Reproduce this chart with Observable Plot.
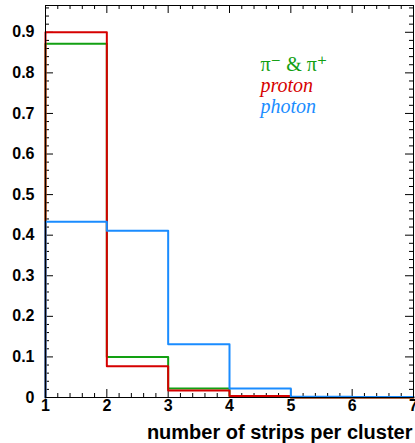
<!DOCTYPE html>
<html>
<head>
<meta charset="utf-8">
<script src="https://cdn.jsdelivr.net/npm/d3@7"></script>
<script src="https://cdn.jsdelivr.net/npm/@observablehq/plot@0.6"></script>
<style>
  html, body { margin: 0; padding: 0; background: #fff; }
  .legend-serif text { font-family: "Liberation Serif", "DejaVu Serif", "Times New Roman", serif !important; }
</style>
</head>
<body>
<div id="chart"></div>
<script>
// Bin edges (number of strips per cluster)
const binEdges = [1, 2, 3, 4, 5, 6, 7];
// Normalised fractions per bin (bins 1..6)
const pionValues   = [0.872, 0.100, 0.022, 0.004, 0.000, 0.000];
const protonValues = [0.900, 0.077, 0.017, 0.004, 0.000, 0.000];
const photonValues = [0.433, 0.411, 0.131, 0.022, 0.002, 0.001];
const seriesNames  = ["pion", "proton", "photon"];
const legendLabels = ["π⁻ & π⁺", "proton", "photon"];
const xTickLabels  = [1, 2, 3, 4, 5, 6, 7];
const yTickValues  = [0, 0.1, 0.2, 0.3, 0.4, 0.5, 0.6, 0.7, 0.8, 0.9];

const colors = {pion: "#12a012", proton: "#d60000", photon: "#1a8cff"};

function outline(values) {
  const pts = [{x: binEdges[0], y: 0}];
  values.forEach((v, i) => pts.push({x: binEdges[i], y: v}));
  pts.push({x: binEdges[binEdges.length - 1], y: values[values.length - 1]});
  return pts;
}

const W = 415, H = 443;
const mL = 45, mR = 2, mT = 5, mB = 46;
const frameH = H - mT - mB;
const frameW = W - mL - mR;

const xMajor = d3.range(1, 7.001, 1);
const xMinor = d3.range(1, 7.001, 0.2).filter(v => Math.abs(v - Math.round(v)) > 1e-6);
const yMajor = yTickValues;
const yMinor = d3.range(0, 0.961, 0.02).filter(v => Math.abs(v * 10 - Math.round(v * 10)) > 1e-6);

const majorLen = 8, minorLen = 4;
const serif = "Liberation Serif";

const legendMarks = legendLabels.map((label, i) =>
  Plot.text([label], {frameAnchor: "top-left", textAnchor: "start", lineAnchor: "bottom",
    dx: 215, dy: 65 + 21 * i, text: d => d, fontFamily: serif, fontSize: 20,
    className: "legend-serif",
    fill: colors[seriesNames[i]], fontStyle: i === 0 ? "normal" : "italic"}));

const chart = Plot.plot({
  width: W,
  height: H,
  marginLeft: mL,
  marginRight: mR,
  marginTop: mT,
  marginBottom: mB,
  style: {background: "#fff", fontFamily: "'Liberation Sans', Arial, sans-serif"},
  x: {domain: [1, 7], axis: null},
  y: {domain: [0, 0.966], axis: null},
  marks: [
    Plot.ruleX(xMajor, {x: d => d, insetTop: frameH - majorLen, stroke: "#000"}),
    Plot.ruleX(xMinor, {x: d => d, insetTop: frameH - minorLen, stroke: "#000"}),
    Plot.ruleX(xMajor, {x: d => d, insetBottom: frameH - majorLen, stroke: "#000"}),
    Plot.ruleX(xMinor, {x: d => d, insetBottom: frameH - minorLen, stroke: "#000"}),
    Plot.ruleY(yMajor, {y: d => d, insetRight: frameW - majorLen, stroke: "#000"}),
    Plot.ruleY(yMinor, {y: d => d, insetRight: frameW - minorLen, stroke: "#000"}),
    Plot.ruleY(yMajor, {y: d => d, insetLeft: frameW - majorLen, stroke: "#000"}),
    Plot.ruleY(yMinor, {y: d => d, insetLeft: frameW - minorLen, stroke: "#000"}),
    Plot.line(outline(pionValues), {x: "x", y: "y", curve: "step-after", stroke: colors.pion, strokeWidth: 2}),
    Plot.line(outline(protonValues), {x: "x", y: "y", curve: "step-after", stroke: colors.proton, strokeWidth: 2}),
    Plot.line(outline(photonValues), {x: "x", y: "y", curve: "step-after", stroke: colors.photon, strokeWidth: 2}),
    Plot.frame({stroke: "#000", strokeWidth: 1}),
    Plot.text(xTickLabels, {x: d => d, frameAnchor: "bottom", lineAnchor: "top", dy: 2,
      text: d => String(d), fontSize: 16, fontWeight: "bold", fill: "#000"}),
    Plot.text(yTickValues, {y: d => d, frameAnchor: "left", textAnchor: "end", dx: -11,
      text: d => d === 0 ? "0" : d.toFixed(1), fontSize: 16, fontWeight: "bold", fill: "#000"}),
    Plot.text(["number of strips per cluster"], {frameAnchor: "bottom-right", textAnchor: "end",
      lineAnchor: "bottom", dx: -1, dy: 41, fontSize: 20, fontWeight: "bold", fill: "#000"}),
    ...legendMarks
  ]
});

document.getElementById("chart").appendChild(chart);
</script>
</body>
</html>
